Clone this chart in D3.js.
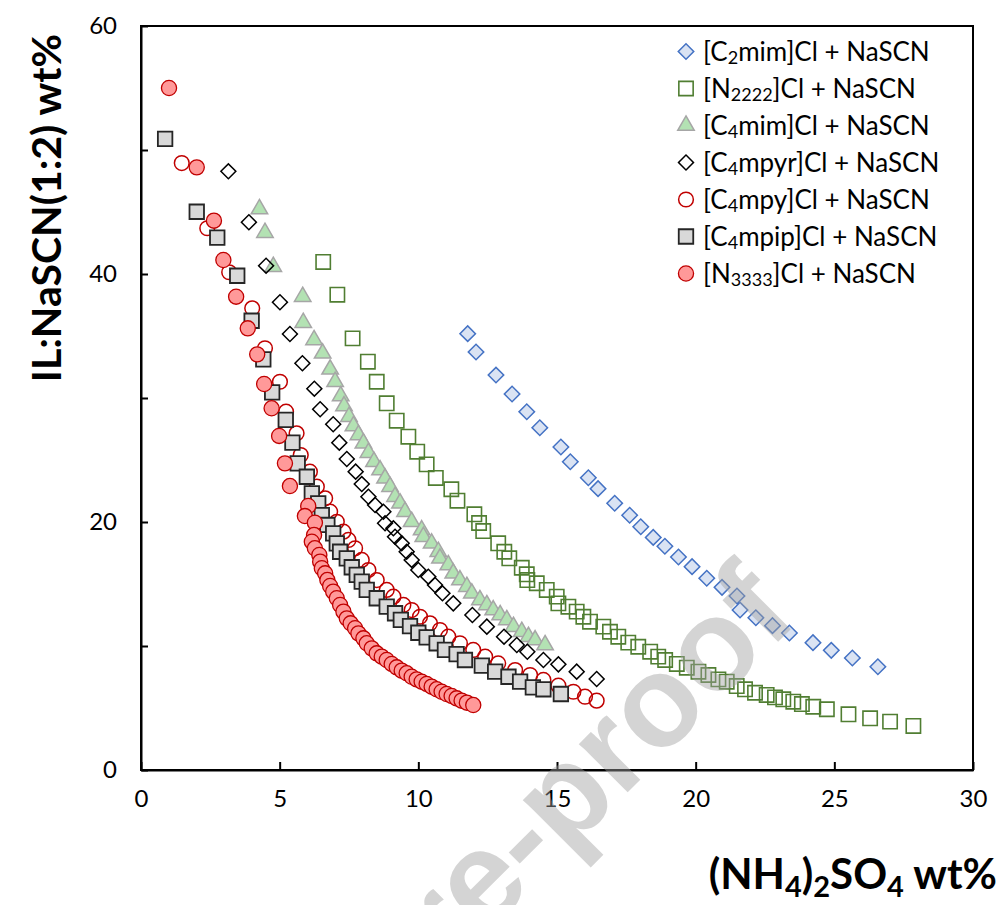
<!DOCTYPE html>
<html><head><meta charset="utf-8">
<script src="https://cdn.jsdelivr.net/npm/d3@7"></script>
<style>body{margin:0;background:#fff}</style>
</head><body>
<svg id="chart" width="1001" height="905"></svg>
<script>
// ---- data ----
const xTicks = [0,5,10,15,20,25,30];
const yTicks = [0,10,20,30,40,50,60];
const yTickLabels = [0,20,40,60];

const C2MIM = [[11.78,35.19],[12.08,33.71],[12.80,31.85],[13.38,30.32],[13.91,28.89],[14.38,27.60],[15.14,26.05],[15.48,24.86],[16.13,23.57],[16.48,22.69],[17.08,21.51],[17.62,20.54],[18.02,19.62],[18.47,18.76],[18.89,18.04],[19.38,17.18],[19.87,16.40],[20.40,15.46],[20.95,14.73],[21.49,14.03],[21.60,12.90],[22.17,12.28],[22.77,11.64],[23.38,11.05],[24.23,10.27],[24.89,9.65],[25.65,9.03],[26.57,8.33]];
const N2222 = [[6.57,40.97],[7.08,38.33],[7.63,34.81],[8.18,32.93],[8.50,31.31],[8.86,29.57],[9.22,28.17],[9.64,26.88],[9.96,25.67],[10.30,24.65],[10.63,23.55],[11.19,22.64],[11.41,21.72],[12.02,20.62],[12.19,19.92],[12.34,19.27],[12.88,18.28],[13.10,17.60],[13.28,17.07],[13.73,16.31],[13.91,15.78],[13.93,15.32],[14.27,15.06],[14.63,14.52],[14.99,13.98],[15.05,13.44],[15.41,13.17],[15.71,12.77],[15.95,12.36],[16.19,11.96],[16.67,11.56],[16.91,11.15],[17.21,10.75],[17.57,10.27],[17.93,9.94],[18.36,9.54],[18.65,9.14],[18.90,8.87],[19.32,8.55],[19.68,8.25],[20.10,7.93],[20.46,7.66],[20.82,7.31],[21.12,7.12],[21.48,6.77],[21.78,6.51],[22.14,6.23],[22.56,6.05],[22.86,5.86],[23.16,5.70],[23.52,5.51],[23.83,5.32],[24.24,5.10],[24.73,4.90],[25.51,4.49],[26.29,4.17],[27.01,3.90],[27.85,3.55]];
const C4MIM = [[4.27,45.24],[4.47,43.33],[4.77,40.59],[5.83,38.17],[5.85,36.07],[6.24,34.68],[6.55,33.60],[6.82,32.31],[7.00,31.31],[7.20,30.16],[7.32,29.35],[7.50,28.49],[7.66,27.74],[7.84,27.02],[8.02,26.35],[8.20,25.59],[8.40,24.86],[8.62,24.19],[8.80,23.52],[8.98,22.85],[9.16,22.04],[9.34,21.51],[9.52,20.83],[9.76,20.02],[10.12,19.35],[10.18,18.81],[10.48,18.28],[10.72,17.60],[10.78,17.07],[11.08,16.53],[11.26,15.86],[11.50,15.32],[11.75,14.78],[11.93,14.25],[12.22,13.71],[12.47,13.31],[12.70,12.90],[12.95,12.50],[13.19,12.10],[13.43,11.56],[13.73,11.15],[13.97,10.75],[14.21,10.48],[14.57,10.08]];
const C4MPYR = [[3.15,48.28],[3.89,44.17],[4.51,40.67],[5.01,37.72],[5.37,35.16],[5.82,32.80],[6.25,30.75],[6.46,29.09],[6.93,27.88],[7.15,26.40],[7.42,25.08],[7.74,24.06],[7.96,23.06],[8.20,22.04],[8.44,21.37],[8.74,20.83],[8.80,19.90],[9.10,19.49],[9.16,18.81],[9.40,18.28],[9.58,17.60],[9.76,16.94],[10.00,16.13],[10.36,15.59],[10.60,14.92],[10.87,14.25],[11.26,13.44],[11.95,12.50],[12.47,11.56],[13.09,10.75],[13.55,10.08],[13.93,9.54],[14.51,8.87],[15.05,8.52],[15.71,7.93],[16.43,7.34]];
const C4MPY = [[1.47,48.95],[2.39,43.69],[3.18,40.14],[4.01,37.23],[4.47,34.01],[5.01,31.31],[5.23,28.90],[5.61,27.15],[5.76,25.40],[6.09,24.06],[6.34,22.85],[6.64,21.91],[6.82,20.83],[7.06,20.02],[7.30,19.22],[7.48,18.55],[7.72,17.88],[7.96,16.94],[8.20,16.13],[8.50,15.32],[8.86,14.52],[9.10,13.98],[9.46,13.31],[9.76,12.90],[10.06,12.36],[10.42,11.83],[10.78,11.29],[11.08,10.75],[11.50,10.22],[11.98,9.68],[12.41,9.14],[12.88,8.60],[13.49,8.06],[14.03,7.66],[14.51,7.26],[15.05,6.80],[15.59,6.31],[16.01,5.91],[16.43,5.59]];
const C4MPIP = [[0.87,50.89],[2.01,45.02],[2.75,42.93],[3.47,39.86],[3.99,36.23],[4.41,33.12],[4.73,30.46],[5.22,28.23],[5.46,26.40],[5.65,24.73],[5.98,23.65],[6.16,22.31],[6.39,21.51],[6.52,20.56],[6.72,19.76],[6.93,19.09],[7.06,18.28],[7.18,17.60],[7.42,17.07],[7.60,16.35],[7.78,15.73],[7.96,15.19],[8.14,14.52],[8.50,13.85],[8.86,13.17],[9.16,12.64],[9.37,12.10],[9.70,11.61],[10.00,11.07],[10.30,10.70],[10.66,10.22],[10.96,9.68],[11.38,9.35],[11.68,8.87],[12.29,8.41],[12.77,7.93],[13.25,7.52],[13.67,7.12],[14.13,6.67],[14.51,6.51],[15.14,6.13]];
const N3333 = [[1.01,55.0],[2.01,48.60],[2.63,44.30],[2.97,41.13],[3.43,38.17],[3.85,35.62],[4.19,33.52],[4.44,31.13],[4.71,29.17],[4.98,26.94],[5.19,24.73],[5.37,22.90],[6.03,21.29],[5.91,20.48],[6.27,19.94],[6.24,18.95],[6.16,18.41],[6.27,17.88],[6.43,17.34],[6.46,16.80],[6.52,16.27],[6.64,15.86],[6.72,15.32],[6.82,14.84],[6.93,14.38],[7.06,13.85],[7.18,13.31],[7.30,12.77],[7.42,12.23],[7.56,11.83],[7.72,11.43],[7.84,11.02],[8.02,10.62],[8.14,10.22],[8.32,9.81],[8.50,9.41],[8.68,9.14],[8.86,8.87],[9.04,8.55],[9.22,8.28],[9.40,8.01],[9.58,7.80],[9.76,7.52],[9.94,7.31],[10.12,7.12],[10.30,6.94],[10.48,6.72],[10.66,6.51],[10.84,6.31],[11.02,6.13],[11.20,5.97],[11.38,5.78],[11.56,5.59],[11.75,5.43],[11.98,5.24]];

const seriesLabels = [
  [["[C"],["2","sub"],["mim]Cl + NaSCN"]],
  [["[N"],["2222","sub"],["]Cl + NaSCN"]],
  [["[C"],["4","sub"],["mim]Cl + NaSCN"]],
  [["[C"],["4","sub"],["mpyr]Cl + NaSCN"]],
  [["[C"],["4","sub"],["mpy]Cl + NaSCN"]],
  [["[C"],["4","sub"],["mpip]Cl + NaSCN"]],
  [["[N"],["3333","sub"],["]Cl + NaSCN"]]
];
const seriesData = [C2MIM, N2222, C4MIM, C4MPYR, C4MPY, C4MPIP, N3333];

// ---- styles ----
const styles = [
  {type:"diamond", size:120, fill:"#dae3f3", stroke:"#4472c4", sw:1.5},
  {type:"square",  size:205, fill:"none",    stroke:"#507e32", sw:1.6},
  {type:"triangle",size:118, fill:"#b3e2b3", stroke:"#a6a6a6", sw:1.5},
  {type:"diamond", size:112, fill:"none",    stroke:"#000000", sw:1.5},
  {type:"circle",  size:170, fill:"none",    stroke:"#c00000", sw:1.5},
  {type:"square",  size:210, fill:"#d9d9d9", stroke:"#262626", sw:1.8},
  {type:"circle",  size:180, fill:"#ff9999", stroke:"#c00000", sw:1.3}
];

const svg = d3.select("#chart");
const L = 141, R = 973, T = 26, B = 770;
const x = d3.scaleLinear().domain([0,30]).range([L,R]);
const y = d3.scaleLinear().domain([0,60]).range([B,T]);
const tickFont = "Lato, 'Open Sans', sans-serif";

// frame
svg.append("rect").attr("x",L).attr("y",T).attr("width",R-L).attr("height",B-T)
  .attr("fill","none").attr("stroke","#000").attr("stroke-width",2);

// x axis
const xAxis = d3.axisBottom(x).tickValues(xTicks).tickSizeInner(-8).tickSizeOuter(0).tickPadding(20);
const gx = svg.append("g").attr("transform",`translate(0,${B})`).call(xAxis);
gx.select(".domain").attr("stroke-width",2);
gx.selectAll(".tick line").attr("stroke-width",2);
gx.selectAll(".tick text").attr("font-family",tickFont).attr("font-size",24).attr("fill","#000");

// y axis
const yAxis = d3.axisLeft(y).tickValues(yTicks).tickSizeInner(-7).tickSizeOuter(0).tickPadding(24)
  .tickFormat(d => yTickLabels.includes(d) ? d : "");
const gy = svg.append("g").attr("transform",`translate(${L},0)`).call(yAxis);
gy.select(".domain").attr("stroke-width",2);
gy.selectAll(".tick line").attr("stroke-width",2);
gy.selectAll(".tick text").attr("font-family",tickFont).attr("font-size",24).attr("fill","#000");

function symPath(st){
  const t = st.type==="circle"?d3.symbolCircle: st.type==="triangle"?d3.symbolTriangle: d3.symbolSquare;
  return d3.symbol().type(t).size(st.size)();
}
function rot(st){ return st.type==="diamond" ? " rotate(45)" : ""; }

// points
seriesData.forEach((data,i)=>{
  const st = styles[i];
  svg.append("g").selectAll("path").data(data).join("path")
    .attr("d", symPath(st))
    .attr("transform", d=>`translate(${x(d[0])},${y(d[1])})${rot(st)}`)
    .attr("fill", st.fill).attr("stroke", st.stroke).attr("stroke-width", st.sw);
});

// legend
const legY0 = 51.5, legDy = 37, legMX = 686, legTX = 703;
seriesLabels.forEach((parts,i)=>{
  const st = styles[i];
  const cy = legY0 + i*legDy;
  svg.append("path").attr("d", symPath(st))
    .attr("transform", `translate(${legMX},${cy})${rot(st)}`)
    .attr("fill", st.fill==="none"?"#fff":st.fill).attr("stroke", st.stroke).attr("stroke-width", st.sw);
  const t = svg.append("text").attr("x",legTX).attr("y",cy+9)
    .attr("font-family",tickFont).attr("font-size",26).attr("fill","#000");
  parts.forEach(p=>{
    if(p[1]==="sub"){
      t.append("tspan").attr("font-size",18).attr("dy",3).text(p[0]);
    } else {
      const ts = t.append("tspan").text(p[0]);
      if(t.selectAll("tspan").size()>1) ts.attr("dy",-3);
    }
  });
});

// axis titles
const tx = svg.append("text").attr("x",997).attr("y",889).attr("text-anchor","end")
  .attr("font-family",tickFont).attr("font-weight","bold").attr("font-size",42).attr("fill","#000");
tx.append("tspan").text("(NH");
tx.append("tspan").attr("font-size",29).attr("dy",8).text("4");
tx.append("tspan").attr("dy",-8).text(")");
tx.append("tspan").attr("font-size",29).attr("dy",8).text("2");
tx.append("tspan").attr("dy",-8).text("SO");
tx.append("tspan").attr("font-size",29).attr("dy",8).text("4");
tx.append("tspan").attr("dy",-8).text(" wt%");

svg.append("text").attr("transform","translate(61,208) rotate(-90)").attr("text-anchor","middle")
  .attr("font-family",tickFont).attr("font-weight","bold").attr("font-size",41).attr("fill","#000")
  .text("IL:NaSCN(1:2) wt%");

// watermark
svg.append("text").attr("transform","translate(800,620) rotate(-45)").attr("text-anchor","end")
  .attr("font-family","'Liberation Sans', Arial, sans-serif").attr("font-weight","bold").attr("font-size",130)
  .attr("fill","#a0a0a0").attr("fill-opacity",0.45).text("Journal Pre-proof");
</script>
</body></html>
